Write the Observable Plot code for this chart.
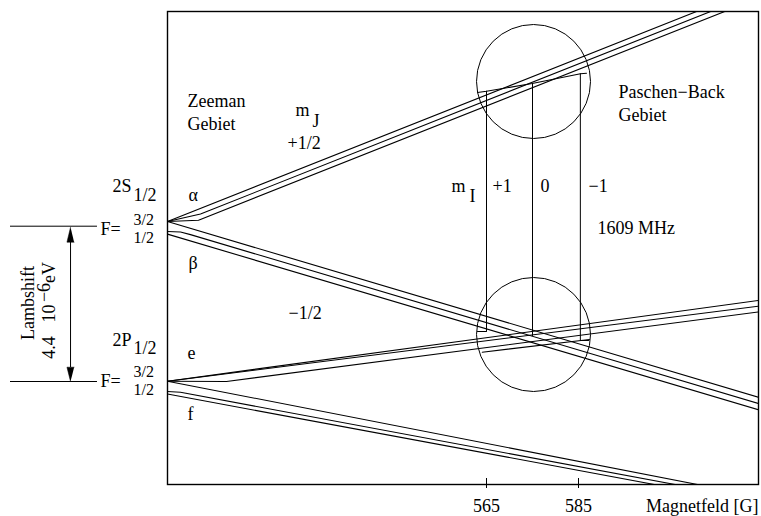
<!DOCTYPE html>
<html>
<head>
<meta charset="utf-8">
<script src="https://cdn.jsdelivr.net/npm/d3@7"></script>
<script src="https://cdn.jsdelivr.net/npm/@observablehq/plot@0.6"></script>
<style>
  body { margin: 0; background: #fff; }
</style>
</head>
<body>
<div id="chart"></div>
<script>
// Breit–Rabi style sketch of the n=2 levels of deuterium in a magnetic field.
// x: magnetic field B in gauss, y: energy in arbitrary units.

const fieldTicks = [565, 585];
const fieldTickLabels = ["565", "585"];

// Fields of the three m_I resonances and their labels
const resonanceFields = [565, 575, 585.4];
const mILabels = ["+1", "0", "−1"];
// Upper and lower ends (energy) of the resonance connectors
const resonanceTop = [393.3, 401, 410.7];
const resonanceBottom = [153, 148, 144];

// Zero-field hyperfine levels (energy)
const level2S = [263, 253];   // F = 3/2, F = 1/2
const level2P = [103.3, 93];  // F = 3/2, F = 1/2

// 2S, m_J = +1/2 (alpha), three m_I components: [B, E] vertices
const alphaLines = [
  [[495.65, 263], [624.13, 497.6]],
  [[495.65, 263], [502.83, 270.5], [624.13, 492]],
  [[495.65, 263], [502.39, 264.3], [624.13, 486.4]]
];
// 2S, m_J = -1/2 (beta)
const betaLines = [
  [[495.65, 263], [624.13, 87.3]],
  [[495.65, 253], [498.48, 252.5], [500.65, 249.9], [624.13, 81]],
  [[495.65, 250.4], [624.13, 74.7]]
];
// 2P, m_J = +1/2 (e)
const eLines = [
  [[495.65, 103.3], [624.13, 184]],
  [[495.65, 103.3], [624.13, 178.3]],
  [[495.65, 103.3], [508.48, 103], [624.13, 172.5]]
];
// 2P, m_J = -1/2 (f)
const fLines = [
  [[495.65, 103.3], [610.87, 0]],
  [[495.65, 93], [498.48, 92.2], [606.0, 0]],
  [[495.65, 90.5], [601.5, 0]]
];
// Magnified components inside the two circles
const upperInset = [
  [[563.04, 392], [565, 393.3], [574.93, 401], [585.43, 410.7], [586.74, 411.3]]
];
const lowerInset = [
  [[563.04, 153], [565, 153]],
  [[564.07, 132.3], [587.39, 145]],
  [[585.43, 144], [587.2, 144]]
];
// Circle centres (B, E)
const magnifiers = [[575.22, 403], [575.22, 150]];

function rows(lines, group) {
  return lines.flatMap((pts, i) => pts.map(([B, E]) => ({B, E, id: group + i})));
}
const levelRows = [
  ...rows(alphaLines, "a"), ...rows(betaLines, "b"),
  ...rows(eLines, "e"), ...rows(fLines, "f"),
  ...rows(upperInset, "u"), ...rows(lowerInset, "l")
];

// Text annotations: text, B, E (baseline)
const labels = [
  ["Zeeman", 500.0, 378], ["Gebiet", 500.0, 355],
  ["m", 523.48, 369], ["J", 527.17, 358], ["+1/2", 521.74, 336],
  ["α", 500.22, 284], ["β", 500.22, 216], ["−1/2", 521.96, 166],
  ["e", 500.0, 126], ["f", 500.0, 65],
  ["Paschen−Back", 593.7, 387], ["Gebiet", 593.7, 364],
  ["m", 557.39, 293], ["I", 561.3, 283],
  ["1609 MHz", 589.13, 251],
  ["2S", 483.7, 293], ["1/2", 488.26, 284],
  ["2P", 483.7, 139], ["1/2", 488.26, 131],
  ["F=", 481.09, 250], ["F=", 481.09, 98]
].map(([text, B, E]) => ({text, B, E}));
// Hyperfine quantum numbers next to the zero-field levels
const fractions = [
  ["3/2", 488.26, 260], ["1/2", 488.26, 242],
  ["3/2", 488.26, 108], ["1/2", 488.26, 90]
].map(([text, B, E]) => ({text, B, E}));
const mIText = mILabels.map((text, i) => ({text, B: [566.3, 576.74, 587.17][i], E: 293}));

// Lamb shift annotation in the left margin
const lambB = 474.57;
const lambArrowHeads = [
  {id: "top", pts: [[lambB, 257.3], [lambB - 0.78, 242.3], [lambB + 0.78, 242.3]]},
  {id: "bot", pts: [[lambB, 103], [lambB - 0.78, 117.3], [lambB + 0.78, 117.3]]}
].flatMap(d => d.pts.map(([B, E]) => ({B, E, id: d.id})));
const lambText = [
  {text: "Lambshift", B: 466.52, E: 181.5, anchor: "middle"},
  {text: "4.4", B: 471.3, E: 137, anchor: "start"},
  {text: "10", B: 471.3, E: 171, anchor: "start"},
  {text: "−6", B: 470.2, E: 192, anchor: "start"},
  {text: "eV", B: 471.3, E: 212, anchor: "start"}
];

const plot = Plot.plot({
  width: 761,
  height: 516,
  marginLeft: 167,
  marginRight: 3,
  marginTop: 11,
  marginBottom: 32,
  x: {domain: [495.65, 624.13], axis: null},
  y: {domain: [0, 473], axis: null},
  style: {fontFamily: "'Liberation Serif', serif", fontSize: "18px", background: "#fff", color: "#000"},
  marks: [
    // Energy levels
    Plot.line(levelRows, {x: "B", y: "E", z: "id", stroke: "#000", strokeWidth: 1.1, clip: true}),
    // Resonance connectors
    Plot.ruleX(resonanceFields, {x: d => d, y1: (d, i) => resonanceBottom[i], y2: (d, i) => resonanceTop[i], stroke: "#000", strokeWidth: 1}),
    // Magnifying circles
    Plot.dot(magnifiers, {x: d => d[0], y: d => d[1], r: 57, stroke: "#000", strokeWidth: 1, fill: "none"}),
    Plot.frame({stroke: "#000", strokeWidth: 1.4}),
    // Field axis ticks and labels
    Plot.ruleX(fieldTicks, {y1: -4, y2: 6, stroke: "#000", strokeWidth: 1}),
    Plot.text(fieldTicks, {x: d => d, y: -27, text: (d, i) => fieldTickLabels[i], lineAnchor: "bottom", fill: "#000"}),
    Plot.text(["Magnetfeld [G]"], {x: 624.13, y: -27, text: d => d, textAnchor: "end", lineAnchor: "bottom", fill: "#000"}),
    // Zero-field levels marked in the margin
    Plot.ruleY([level2S[0] - 4.7, level2P[0] - 0.3], {x1: 461.52, x2: 480.43, stroke: "#000", strokeWidth: 1}),
    // Lamb shift arrow
    Plot.ruleX([lambB], {y1: 117, y2: 243, stroke: "#000", strokeWidth: 1}),
    Plot.line(lambArrowHeads, {x: "B", y: "E", z: "id", fill: "#000", stroke: "#000", strokeWidth: 0.5}),
    Plot.text(lambText, {x: "B", y: "E", text: "text", rotate: -90, textAnchor: d => d.anchor, lineAnchor: "bottom", fill: "#000"}),
    // Annotations
    Plot.text(labels, {x: "B", y: "E", text: "text", textAnchor: "start", lineAnchor: "bottom", fill: "#000"}),
    Plot.text(fractions, {x: "B", y: "E", text: "text", textAnchor: "start", lineAnchor: "bottom", fontSize: 16, fill: "#000"}),
    Plot.text(mIText, {x: "B", y: "E", text: "text", textAnchor: "start", lineAnchor: "bottom", fill: "#000"})
  ]
});
document.getElementById("chart").append(plot);
</script>
</body>
</html>
